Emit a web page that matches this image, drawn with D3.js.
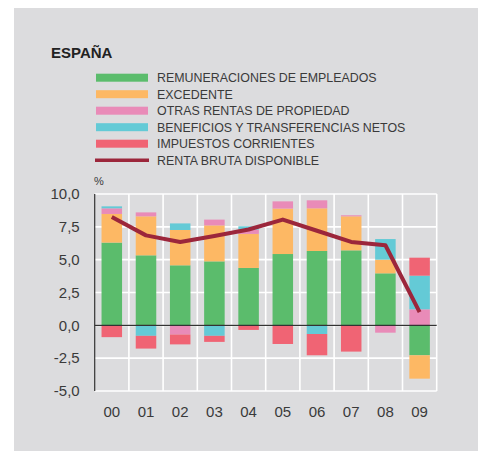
<!DOCTYPE html>
<html><head><meta charset="utf-8">
<script src="https://cdn.jsdelivr.net/npm/d3@7"></script>
<style>html,body{margin:0;padding:0;background:#fff;}svg{display:block;font-family:"Liberation Sans",Arial,sans-serif;}</style>
</head><body>
<svg id="c" width="481" height="451"></svg>
<script>
const years = ["00","01","02","03","04","05","06","07","08","09"];
const remuneraciones = [6.3, 5.33, 4.57, 4.87, 4.37, 5.43, 5.66, 5.71, 3.96, -2.28];
const excedente = [2.18, 2.97, 2.69, 2.74, 2.59, 3.46, 3.25, 2.59, 1.04, -1.78];
const otrasRentas = [0.43, 0.3, -0.7, 0.44, 0.33, 0.55, 0.61, 0.08, -0.56, 1.22];
const beneficios = [0.15, -0.8, 0.5, -0.8, 0.25, 0, -0.66, 0, 1.57, 2.56];
const impuestos = [-0.9, -0.97, -0.75, -0.46, -0.35, -1.42, -1.62, -2.0, 0, 1.37];
const rentaBruta = [8.25, 6.85, 6.35, 6.8, 7.3, 8.05, 7.2, 6.35, 6.1, 1.0];
const yTicks = [-5, -2.5, 0, 2.5, 5, 7.5, 10];
const seriesNames = ["REMUNERACIONES DE EMPLEADOS","EXCEDENTE","OTRAS RENTAS DE PROPIEDAD","BENEFICIOS Y TRANSFERENCIAS NETOS","IMPUESTOS CORRIENTES"];
const lineName = "RENTA BRUTA DISPONIBLE";
const colors = ["#5bbc6c","#fdb864","#e98bb8","#64cad6","#f06474"];
const lineColor = "#9c263b";

const svg = d3.select("#c");
const textColor = "#3a3a3a";
svg.append("rect").attr("x",14).attr("y",8).attr("width",464).attr("height",443).attr("fill","#dcdcde");

svg.append("text").attr("x",51).attr("y",58).attr("font-size",15).attr("font-weight","bold")
  .attr("fill","#222").text("ESPAÑA");

// legend
const legY0 = 77.7, legStep = 16.5;
seriesNames.forEach((n,i)=>{
  const cy = legY0 + i*legStep;
  svg.append("rect").attr("x",96).attr("y",cy-4).attr("width",52).attr("height",8).attr("fill",colors[i]);
  svg.append("text").attr("x",157).attr("y",cy+4.5).attr("font-size",12.4).attr("fill",textColor).text(n);
});
{
  const cy = legY0 + 5*legStep;
  svg.append("line").attr("x1",95).attr("x2",149).attr("y1",cy).attr("y2",cy).attr("stroke",lineColor).attr("stroke-width",3.5);
  svg.append("text").attr("x",157).attr("y",cy+4.5).attr("font-size",12.4).attr("fill",textColor).text(lineName);
}

const x0 = 94.7, x1 = 436.7, yTop = 194, yBot = 391;
const x = d3.scaleBand().domain(years).range([x0,x1]).paddingInner(0.4).paddingOuter(0.2);
const y = d3.scaleLinear().domain([-5,10]).range([yBot,yTop]);

// grid
const g = svg.append("g");
yTicks.forEach(t=>{
  g.append("line").attr("x1",x0).attr("x2",x1).attr("y1",y(t)).attr("y2",y(t)).attr("stroke","#fff").attr("stroke-width",1.6);
});
const step = x.step();
for(let i=1;i<=years.length;i++){
  const xx = x0 + i*step;
  g.append("line").attr("x1",xx).attr("x2",xx).attr("y1",yTop).attr("y2",yBot).attr("stroke","#fff").attr("stroke-width",1.6);
}

// stacked bars
const rows = years.map((yr,i)=>({year:yr, s0:remuneraciones[i], s1:excedente[i], s2:otrasRentas[i], s3:beneficios[i], s4:impuestos[i]}));
const stack = d3.stack().keys(["s0","s1","s2","s3","s4"]).offset(d3.stackOffsetDiverging);
const stacked = stack(rows);
svg.append("g").selectAll("g").data(stacked).join("g").attr("fill",(d,i)=>colors[i])
  .selectAll("rect").data(d=>d).join("rect")
  .attr("x",d=>x(d.data.year)).attr("width",x.bandwidth())
  .attr("y",d=>y(Math.max(d[0],d[1]))).attr("height",d=>Math.abs(y(d[0])-y(d[1])));

// axis lines
svg.append("line").attr("x1",x0).attr("x2",x1).attr("y1",y(0)).attr("y2",y(0)).attr("stroke","#333").attr("stroke-width",1.2);
svg.append("line").attr("x1",x0).attr("x2",x0).attr("y1",yTop).attr("y2",yBot).attr("stroke","#333").attr("stroke-width",1.2);

// y axis labels
const fmt = d=>d3.format(".1f")(d).replace(".",",").replace("−","-");
const ya = svg.append("g").attr("transform",`translate(${x0},0)`)
  .call(d3.axisLeft(y).tickValues(yTicks).tickSize(0).tickPadding(15).tickFormat(fmt));
ya.select(".domain").remove();
ya.selectAll("text").attr("font-size",15).attr("fill",textColor).attr("font-family","Liberation Sans, Arial, sans-serif");

svg.append("text").attr("x",94).attr("y",185).attr("font-size",11).attr("fill",textColor).text("%");

// x axis labels
const xa = svg.append("g").attr("transform",`translate(0,${yBot})`)
  .call(d3.axisBottom(x).tickSize(0).tickPadding(15));
xa.select(".domain").remove();
xa.selectAll("text").attr("font-size",15).attr("fill",textColor).attr("font-family","Liberation Sans, Arial, sans-serif");

// line
const line = d3.line().x((d,i)=>x(years[i])+x.bandwidth()/2).y(d=>y(d));
svg.append("path").datum(rentaBruta).attr("d",line).attr("fill","none")
  .attr("stroke",lineColor).attr("stroke-width",4).attr("stroke-linejoin","round");
</script>
</body></html>
